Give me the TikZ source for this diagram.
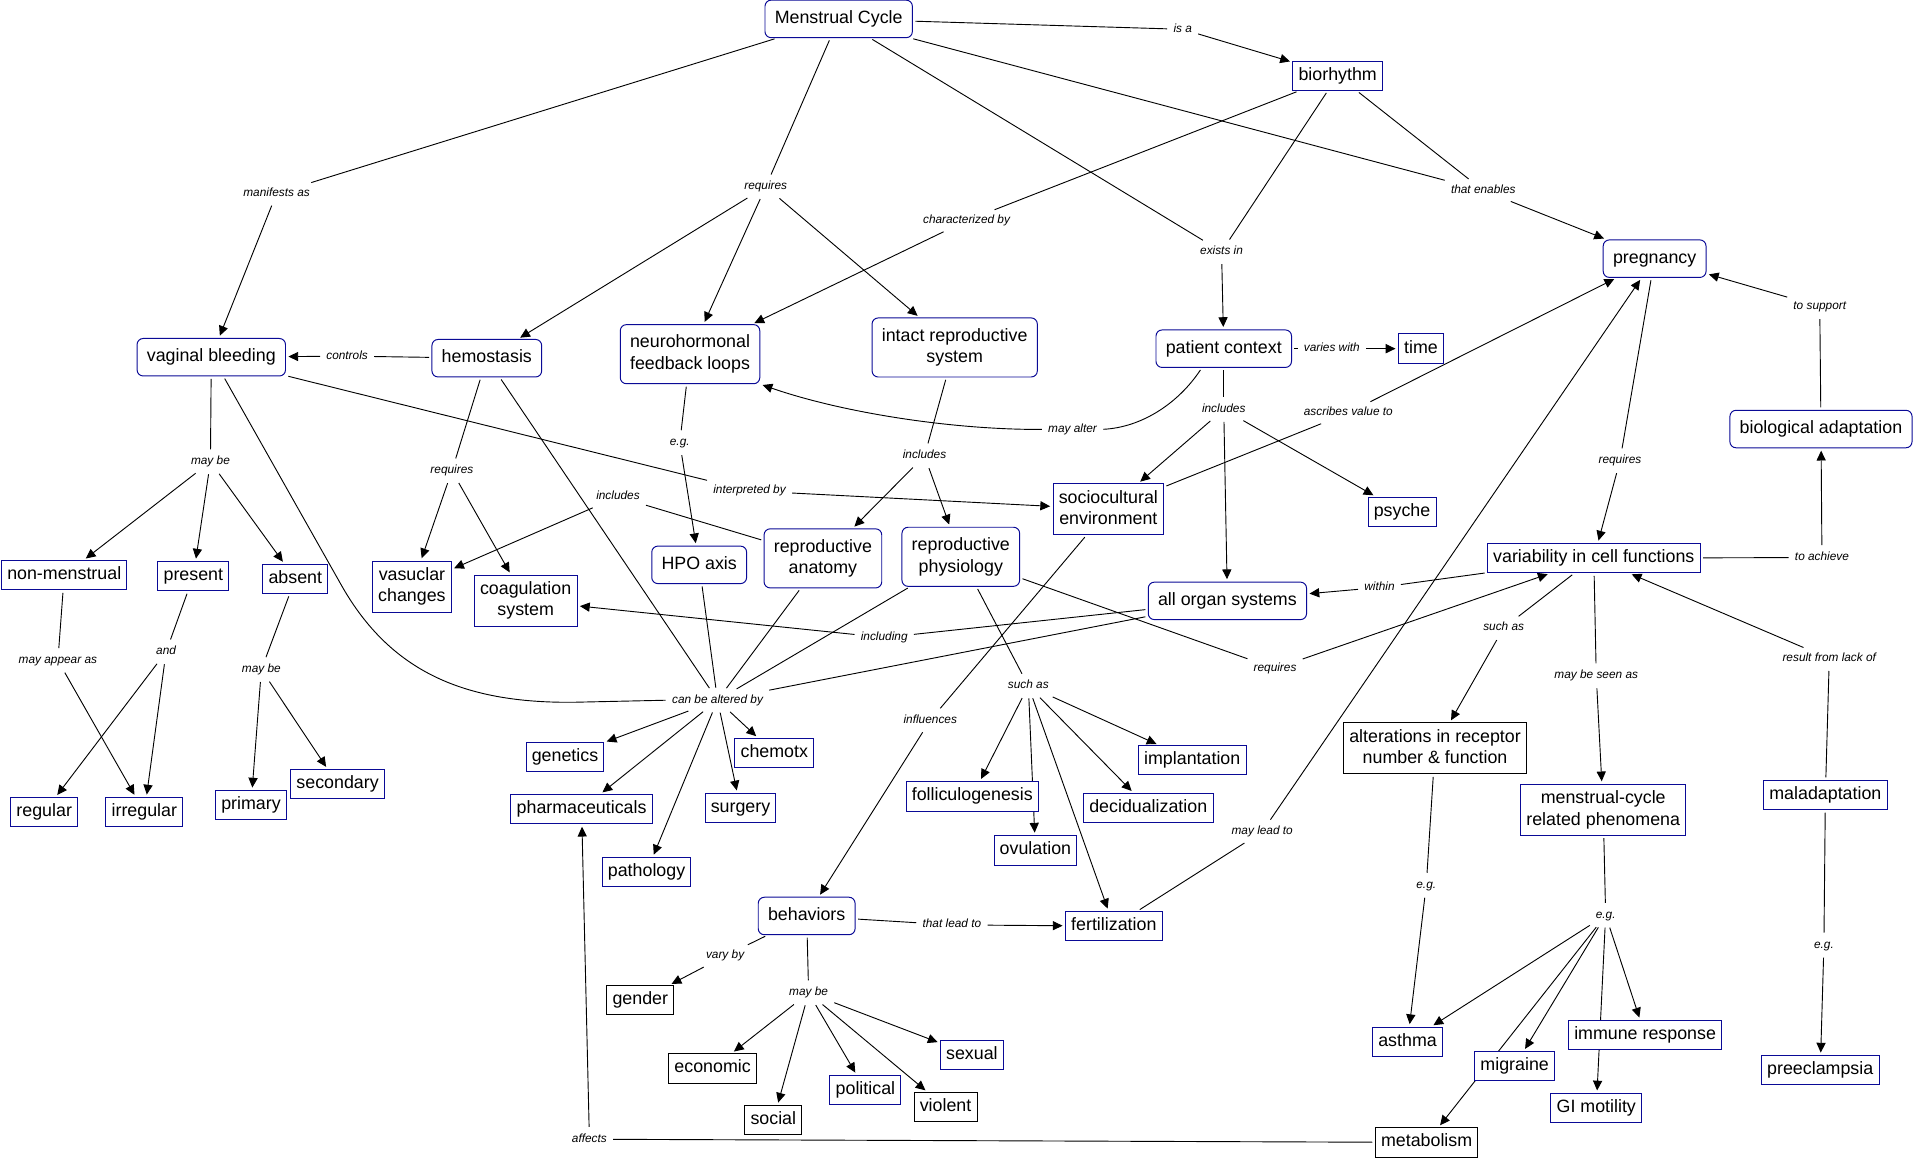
\documentclass[tikz,border=0pt]{standalone}
\usepackage{fontspec}
\setmainfont{Liberation Sans}
\usetikzlibrary{arrows.meta}
\pgfdeclarelayer{bg}
\pgfsetlayers{bg,main}
\definecolor{nb}{RGB}{10,10,150}
\newcommand{\nsv}{\rule[-3.1pt]{0pt}{13.7pt}}
\newcommand{\lsv}{\rule[-2pt]{0pt}{9pt}}
\begin{document}
\begin{tikzpicture}[x=1pt,y=-1pt,
  cn/.style={font=\fontsize{14.6}{17.7}\selectfont, fill=white, line width=0.8pt, align=center, execute at begin node=\nsv},
  rn/.style={cn, draw=nb, rounded corners=5pt, inner xsep=8pt, inner ysep=8.5pt},
  bn/.style={cn, draw=nb, inner xsep=4.7pt, inner ysep=5.2pt},
  kn/.style={bn, draw=black},
  lb/.style={font=\fontsize{9.7}{11}\selectfont\itshape, fill=white, inner xsep=3pt, inner ysep=3.5pt, execute at begin node=\lsv},
  ln/.style={line width=0.75pt, shorten <=2pt, shorten >=2pt},
  ar/.style={ln, -{Triangle[length=8pt,width=7.5pt]}},
]
\useasboundingbox (0,0) rectangle (1568,949);

% concept nodes
\node[rn] (mc) at (686.7,15.5) {Menstrual Cycle};
\node[bn] (bio) at (1095.3,62) {biorhythm};
\node[rn] (preg) at (1354.8,211.8) {pregnancy};
\node[rn] (vb) at (173,292.5) {vaginal bleeding};
\node[rn] (hemo) at (398.6,293.3) {hemostasis};
\node[rn] (neuro) at (565,290) {neurohormonal\\\nsv feedback loops};
\node[rn] (intact) at (781.7,284.5) {intact reproductive\\\nsv system};
\node[rn] (pc) at (1002,285.5) {patient context};
\node[bn] (time) at (1163.5,285.5) {time};
\node[rn] (bioad) at (1491,351.3) {biological adaptation};
\node[bn] (socio) at (907.5,417) {sociocultural\\\nsv environment};
\node[bn] (psyche) at (1148,419) {psyche};
\node[bn] (var) at (1305,457) {variability in cell functions};
\node[rn] (aos) at (1005,492) {all organ systems};
\node[bn] (nonmen) at (52.6,471) {non-menstrual};
\node[bn] (present) at (158.3,471.8) {present};
\node[bn] (absent) at (241.8,474) {absent};
\node[bn] (vasc) at (337.3,480.3) {vasuclar\\\nsv changes};
\node[bn] (coag) at (430.4,491.7) {coagulation\\\nsv system};
\node[rn] (hpo) at (572.5,462.5) {HPO axis};
\node[rn] (ranat) at (673.8,457.2) {reproductive\\\nsv anatomy};
\node[rn] (rphys) at (786.7,455.9) {reproductive\\\nsv physiology};
\node[bn] (regular) at (36.2,665) {regular};
\node[bn] (irregular) at (118.2,665) {irregular};
\node[bn] (primary) at (205.5,659.3) {primary};
\node[bn] (secondary) at (276.4,642) {secondary};
\node[bn] (genetics) at (462.6,619.9) {genetics};
\node[bn] (pharma) at (476.2,662.5) {pharmaceuticals};
\node[bn] (chemo) at (634,616.6) {chemotx};
\node[bn] (surgery) at (606.3,661.6) {surgery};
\node[bn] (patho) at (529.4,714.1) {pathology};
\node[bn] (follic) at (796.1,652) {folliculogenesis};
\node[bn] (implant) at (976.2,622.5) {implantation};
\node[bn] (decid) at (940.2,661.5) {decidualization};
\node[bn] (ovul) at (847.8,696.2) {ovulation};
\node[kn] (alter) at (1175,612.8) {alterations in receptor\\\nsv number \& function};
\node[bn] (mcrp) at (1312.7,663) {menstrual-cycle\\\nsv related phenomena};
\node[bn] (malad) at (1494.6,651) {maladaptation};
\node[rn] (behav) at (660.5,750) {behaviors};
\node[bn] (fert) at (912,758.3) {fertilization};
\node[kn] (gender) at (524.3,819) {gender};
\node[kn] (econ) at (583.5,874.7) {economic};
\node[kn] (social) at (633.2,917.2) {social};
\node[bn] (political) at (708.6,892.4) {political};
\node[kn] (violent) at (774.2,906.5) {violent};
\node[bn] (sexual) at (795.8,864) {sexual};
\node[bn] (asthma) at (1152.5,853) {asthma};
\node[bn] (migraine) at (1240.2,873) {migraine};
\node[bn] (immune) at (1347,847.5) {immune response};
\node[bn] (gi) at (1307,907.3) {GI motility};
\node[kn] (metab) at (1168.1,935.4) {metabolism};
\node[bn] (preec) at (1490.4,876.3) {preeclampsia};

% linking phrases
\node[lb] (lIsa) at (968.4,24) {is a};
\node[lb] (lMan) at (226.5,158.3) {manifests as};
\node[lb] (lReq1) at (627,152.9) {requires};
\node[lb] (lChar) at (791.4,180.7) {characterized by};
\node[lb] (lExist) at (1000.2,206) {exists in};
\node[lb] (lEnab) at (1214.5,156) {that enables};
\node[lb] (lCtrl) at (284.2,291.6) {controls};
\node[lb] (lAlter) at (878.2,351.6) {may alter};
\node[lb] (lVary) at (1090.5,285.5) {varies with};
\node[lb] (lIncPC) at (1002,335.2) {includes};
\node[lb] (lAscr) at (1104,338) {ascribes value to};
\node[lb] (lSupp) at (1490,251) {to support};
\node[lb] (lReqP) at (1326.4,377.3) {requires};
\node[lb] (lAch) at (1491.8,456.5) {to achieve};
\node[lb] (lLack) at (1497.8,539.2) {result from lack of};
\node[lb] (lWithin) at (1129.5,481) {within};
\node[lb] (lSuch2) at (1231.2,514.1) {such as};
\node[lb] (lSeen) at (1307,553.4) {may be seen as};
\node[lb] (lEg3) at (1167.8,724.8) {e.g.};
\node[lb] (lEg4) at (1314.7,749.4) {e.g.};
\node[lb] (lEg5) at (1493.4,773.9) {e.g.};
\node[lb] (lAff) at (482.6,932.8) {affects};
\node[lb] (lMay1) at (172.3,378.1) {may be};
\node[lb] (lApp) at (47.4,540.8) {may appear as};
\node[lb] (lAnd) at (136,533.7) {and};
\node[lb] (lMay2) at (214,548.2) {may be};
\node[lb] (lReqH) at (370,385.5) {requires};
\node[lb] (lIncRA) at (506,406.8) {includes};
\node[lb] (lInterp) at (613.7,401.9) {interpreted by};
\node[lb] (lEg1) at (556.6,362.5) {e.g.};
\node[lb] (lIncI) at (757,373.2) {includes};
\node[lb] (lCan) at (587.5,573.3) {can be altered by};
\node[lb] (lIncl) at (724,522) {including};
\node[lb] (lReqR) at (1044,547.4) {requires};
\node[lb] (lInfl) at (761.7,589.7) {influences};
\node[lb] (lSuch1) at (842,561.6) {such as};
\node[lb] (lLead) at (779.4,757.3) {that lead to};
\node[lb] (lMayLead) at (1033.5,681) {may lead to};
\node[lb] (lVaryBy) at (593.7,782.7) {vary by};
\node[lb] (lMay3) at (662.1,813) {may be};

\begin{pgfonlayer}{bg}
\draw[ln] (mc) -- (lIsa); \draw[ar] (lIsa) -- (bio);
\draw[ln] (mc) -- (lMan); \draw[ar] (lMan) -- (vb);
\draw[ln] (mc) -- (lReq1); \draw[ar] (lReq1) -- (hemo); \draw[ar] (lReq1) -- (neuro); \draw[ar] (lReq1) -- (intact);
\draw[ln] (bio) -- (lChar); \draw[ar] (lChar) -- (neuro);
\draw[ln] (mc) -- (lExist); \draw[ln] (bio) -- (lExist); \draw[ar] (lExist) -- (pc);
\draw[ln] (mc) -- (lEnab); \draw[ln] (bio) -- (lEnab); \draw[ar] (lEnab) -- (preg);
\draw[ln] (hemo) -- (lCtrl); \draw[ar] (lCtrl) -- (vb);
\draw[ln] ([xshift=-18pt]pc.south) .. controls (965,330) and (935,350) .. (lAlter.east);
\draw[ar] (lAlter.west) .. controls (780,352) and (690,338) .. (neuro.south east);
\draw[ln] (pc) -- (lVary); \draw[ar] (lVary) -- (time);
\draw[ln] (pc) -- (lIncPC); \draw[ar] (lIncPC) -- (socio); \draw[ar] (lIncPC) -- (aos); \draw[ar] (lIncPC) -- (psyche);
\draw[ln] (socio) -- (lAscr); \draw[ar] (lAscr) -- (preg);
\draw[ln] (bioad) -- (lSupp); \draw[ar] (lSupp) -- (preg);
\draw[ln] (preg) -- (lReqP); \draw[ar] (lReqP) -- (var);
\draw[ln] (var) -- (lAch); \draw[ar] (lAch) -- (bioad);
\draw[ln] (malad) -- (lLack); \draw[ar] (lLack) -- (var);
\draw[ln] (var) -- (lWithin); \draw[ar] (lWithin) -- (aos);
\draw[ln] (var) -- (lSuch2); \draw[ar] (lSuch2) -- (alter);
\draw[ln] (var) -- (lSeen); \draw[ar] (lSeen) -- (mcrp);
\draw[ln] (alter) -- (lEg3); \draw[ar] (lEg3) -- (asthma);
\draw[ln] (mcrp) -- (lEg4); \draw[ar] (lEg4) -- (asthma); \draw[ar] (lEg4) -- (migraine); \draw[ar] (lEg4) -- (metab); \draw[ar] (lEg4) -- (gi); \draw[ar] (lEg4) -- (immune);
\draw[ln] (malad) -- (lEg5); \draw[ar] (lEg5) -- (preec);
\draw[ln] (metab) -- (lAff); \draw[ar] (lAff) -- (pharma);
\draw[ln] (vb) -- (lMay1); \draw[ar] (lMay1) -- (nonmen); \draw[ar] (lMay1) -- (present); \draw[ar] (lMay1) -- (absent);
\draw[ln] (nonmen) -- (lApp); \draw[ar] (lApp) -- (irregular);
\draw[ln] (present) -- (lAnd); \draw[ar] (lAnd) -- (regular); \draw[ar] (lAnd) -- (irregular);
\draw[ln] (absent) -- (lMay2); \draw[ar] (lMay2) -- (primary); \draw[ar] (lMay2) -- (secondary);
\draw[ln] (hemo) -- (lReqH); \draw[ar] (lReqH) -- (vasc); \draw[ar] (lReqH) -- (coag);
\draw[ln] (ranat) -- (lIncRA); \draw[ar] (lIncRA) -- (vasc);
\draw[ln] (vb) -- (lInterp); \draw[ar] (lInterp) -- (socio);
\draw[ln] (neuro) -- (lEg1); \draw[ar] (lEg1) -- (hpo);
\draw[ln] (intact) -- (lIncI); \draw[ar] (lIncI) -- (ranat); \draw[ar] (lIncI) -- (rphys);
\draw[ln] ([xshift=10pt]vb.south) -- (280,480) .. controls (320,550) and (380,576) .. (470,575) -- (lCan.west);
\draw[ln] (hemo) -- (lCan); \draw[ln] (hpo) -- (lCan); \draw[ln] (ranat) -- (lCan); \draw[ln] (rphys) -- (lCan); \draw[ln] (aos) -- (lCan);
\draw[ar] (lCan) -- (genetics); \draw[ar] (lCan) -- (pharma); \draw[ar] (lCan) -- (patho); \draw[ar] (lCan) -- (surgery); \draw[ar] (lCan) -- (chemo);
\draw[ln] (aos) -- (lIncl); \draw[ar] (lIncl) -- (coag);
\draw[ln] (rphys) -- (lReqR); \draw[ar] (lReqR) -- (var);
\draw[ln] (socio) -- (lInfl); \draw[ar] (lInfl) -- (behav);
\draw[ln] (rphys) -- (lSuch1); \draw[ar] (lSuch1) -- (follic); \draw[ar] (lSuch1) -- (ovul); \draw[ar] (lSuch1) -- (fert); \draw[ar] (lSuch1) -- (decid); \draw[ar] (lSuch1) -- (implant);
\draw[ln] (behav) -- (lLead); \draw[ar] (lLead) -- (fert);
\draw[ln] (fert) -- (lMayLead); \draw[ar] (lMayLead) -- (preg);
\draw[ln] (behav) -- (lVaryBy); \draw[ar] (lVaryBy) -- (gender);
\draw[ln] (behav) -- (lMay3); \draw[ar] (lMay3) -- (econ); \draw[ar] (lMay3) -- (social); \draw[ar] (lMay3) -- (political); \draw[ar] (lMay3) -- (violent); \draw[ar] (lMay3) -- (sexual);
\end{pgfonlayer}
\end{tikzpicture}
\end{document}
